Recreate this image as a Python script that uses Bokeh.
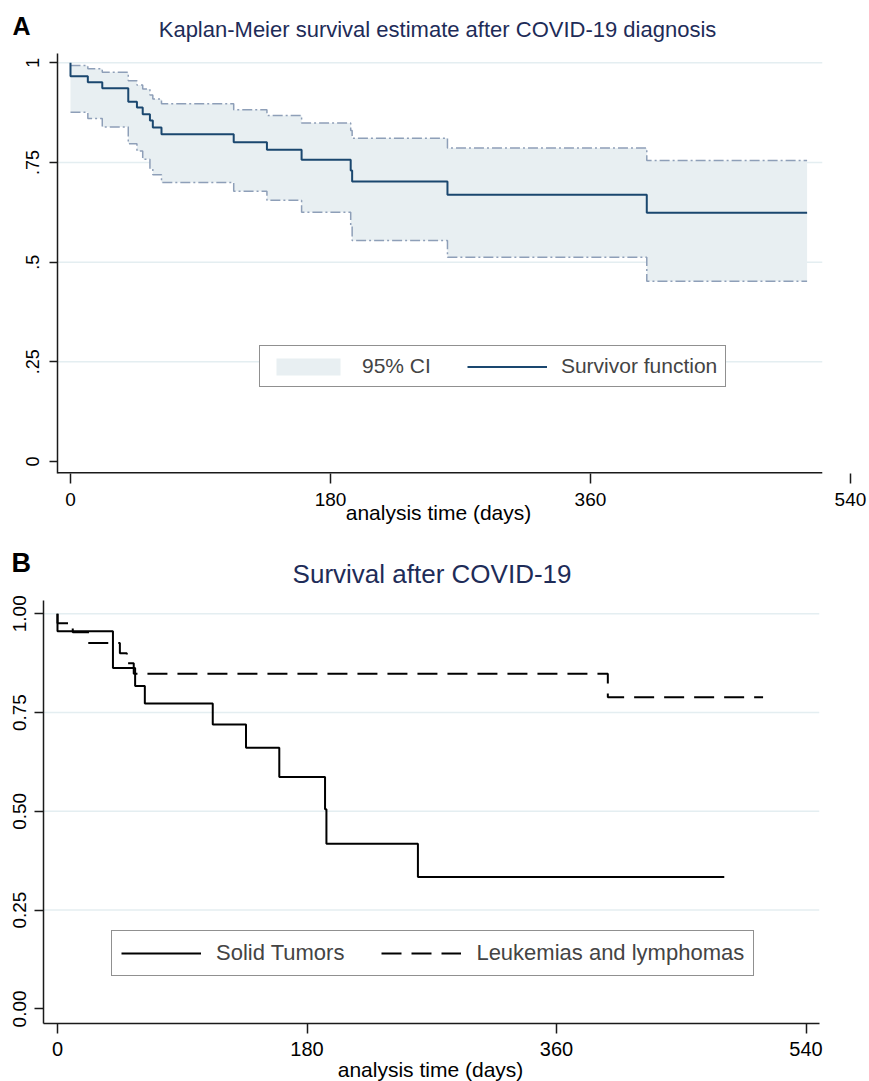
import math
from bokeh.plotting import figure
from bokeh.models import FixedTicker, Range1d, Legend, LegendItem, Label
from bokeh.layouts import column
from bokeh.embed import file_html
from bokeh.resources import INLINE

FONT = "Liberation Sans"

# ---------------- Panel A data (Kaplan-Meier, overall) ----------------
time_A = [0, 0, 12, 22, 40, 46, 50, 55, 57, 63, 113, 136, 160, 194, 195, 261, 399, 510]
surv_A = [1.0, 0.966, 0.951, 0.936, 0.902, 0.888, 0.871, 0.855, 0.838, 0.821,
          0.801, 0.782, 0.757, 0.730, 0.702, 0.669, 0.624, 0.624]
upper_A = [0.993, 0.993, 0.985, 0.976, 0.955, 0.944, 0.934, 0.919, 0.909, 0.897,
           0.882, 0.868, 0.849, 0.830, 0.811, 0.786, 0.755, 0.755]
lower_A = [0.876, 0.876, 0.860, 0.839, 0.797, 0.779, 0.758, 0.734, 0.719, 0.700,
           0.678, 0.655, 0.625, 0.590, 0.554, 0.512, 0.452, 0.452]

# ---------------- Panel B data (by tumour type) ----------------
time_S = [0, 0, 40, 56, 63, 112, 136, 160, 193, 194, 260, 481]
surv_S = [1.0, 0.956, 0.863, 0.817, 0.773, 0.720, 0.661, 0.587, 0.505, 0.418, 0.334, 0.334]
time_L = [0, 0, 11, 22, 45, 50, 55, 397, 509]
surv_L = [1.0, 0.976, 0.953, 0.926, 0.900, 0.875, 0.848, 0.789, 0.789]

x_ticks = [0, 180, 360, 540]
y_ticks = [0, 0.25, 0.5, 0.75, 1.0]
grid_vals = [0.25, 0.5, 0.75, 1.0]
y_labels_A = {0: "0", 0.25: ".25", 0.5: ".5", 0.75: ".75", 1.0: "1"}
y_labels_B = {0: "0.00", 0.25: "0.25", 0.5: "0.50", 0.75: "0.75", 1.0: "1.00"}

NAVY = "#1a476f"
CI_FILL = "#e8eff2"
CI_LINE = "#8e9fb8"
GRID = "#e4eef1"
TITLE = "#1e2c58"
AXIS = "#1a1a1a"

W = 869


def style_axes(p, ytick_font, xtick_font, ytick_len, xtick_len, ystand, xstand):
    p.xgrid.visible = False
    p.ygrid.visible = False
    p.outline_line_color = None
    for ax in (p.xaxis, p.yaxis):
        ax.axis_line_color = AXIS
        ax.axis_line_width = 1.5
        ax.major_tick_line_color = AXIS
        ax.major_tick_line_width = 1.5
        ax.minor_tick_line_color = None
        ax.major_tick_in = 0
        ax.major_label_text_font = FONT
        ax.major_label_text_color = "#000000"
    p.xaxis.ticker = FixedTicker(ticks=x_ticks)
    p.yaxis.ticker = FixedTicker(ticks=y_ticks)
    p.yaxis.major_label_orientation = "vertical"
    p.yaxis.major_tick_out = ytick_len
    p.xaxis.major_tick_out = xtick_len
    p.yaxis.major_label_text_font_size = ytick_font
    p.xaxis.major_label_text_font_size = xtick_font
    p.yaxis.major_label_standoff = ystand
    p.xaxis.major_label_standoff = xstand


def txt(x, y, text, size, color="#000000", bold=False, align="center"):
    return Label(x=x, y=y, text=text, text_font=FONT, text_font_size=size,
                 text_color=color, text_font_style="bold" if bold else "normal",
                 text_align=align, text_baseline="alphabetic")


# ======================= Panel A =======================
xA0, xA1 = -9.0, 553.2
yA0, yA1 = -0.0301, 1.0233
axis_end_A = 520.5

pA = figure(width=W, height=540, x_range=Range1d(xA0, xA1), y_range=Range1d(yA0, yA1),
            output_backend="svg", toolbar_location=None,
            min_border_left=57, min_border_right=0, min_border_top=49, min_border_bottom=67)
pA.frame_align = False
style_axes(pA, "18px", "19px", 8, 10, 10, 9)
pA.yaxis.major_label_overrides = y_labels_A
pA.xaxis.axis_line_color = None

pA.segment(x0=[xA0] * len(grid_vals), x1=[axis_end_A] * len(grid_vals),
           y0=grid_vals, y1=grid_vals, line_color=GRID, line_width=1.5)

ci = pA.varea_step(x=time_A, y1=lower_A, y2=upper_A, step_mode="after",
                   fill_color=CI_FILL, fill_alpha=1.0)
pA.step(time_A, upper_A, mode="after", line_color=CI_LINE, line_width=1.5, line_dash="10 3 2 3")
pA.step(time_A, lower_A, mode="after", line_color=CI_LINE, line_width=1.5, line_dash="10 3 2 3")
sv = pA.step(time_A, surv_A, mode="after", line_color=NAVY, line_width=2)

# x-axis line stops short of the last tick, as in the original
pA.segment(x0=[xA0], x1=[axis_end_A], y0=[yA0], y1=[yA0], line_color=AXIS, line_width=3)

legA = Legend(items=[LegendItem(label="95% CI", renderers=[ci]),
                     LegendItem(label="Survivor function", renderers=[sv])],
              location=(202, 86), orientation="horizontal")
legA.padding = 8
legA.spacing = 36
legA.margin = 0
legA.glyph_width = 80
legA.glyph_height = 21
legA.label_standoff = 14
legA.label_text_font = FONT
legA.label_text_font_size = "21px"
legA.border_line_color = "#222222"
legA.border_line_width = 1.5
legA.background_fill_alpha = 1.0
pA.add_layout(legA)

pA.add_layout(txt(-40.2, 1.0935, "A", "25px", bold=True, align="left"), "above")
pA.add_layout(txt(254.1, 1.0835, "Kaplan-Meier survival estimate after COVID-19 diagnosis",
                  "22px", color=TITLE), "above")
pA.add_layout(txt(254.8, -0.1279, "analysis time (days)", "21px"), "below")

# ======================= Panel B =======================
xB0, xB1 = -10.1, 549.7
yB0, yB1 = -0.037, 1.0336

pB = figure(width=W, height=541, x_range=Range1d(xB0, xB1), y_range=Range1d(yB0, yB1),
            output_backend="svg", toolbar_location=None,
            min_border_left=43, min_border_right=50, min_border_top=59, min_border_bottom=58)
pB.frame_align = False
style_axes(pB, "19px", "20px", 9, 10, 8, 8)
pB.yaxis.major_label_overrides = y_labels_B
pB.segment(x0=[xB0] * len(grid_vals), x1=[xB1] * len(grid_vals),
           y0=grid_vals, y1=grid_vals, line_color=GRID, line_width=1.5)

rs = pB.step(time_S, surv_S, mode="after", line_color="#000000", line_width=2)
rl = pB.step(time_L, surv_L, mode="after", line_color="#000000", line_width=2, line_dash="20 10")

legB = Legend(items=[LegendItem(label="Solid Tumors", renderers=[rs]),
                     LegendItem(label="Leukemias and lymphomas", renderers=[rl])],
              location=(68, 47), orientation="horizontal")
legB.padding = 9
legB.spacing = 37
legB.margin = 0
legB.glyph_width = 80
legB.glyph_height = 22
legB.label_standoff = 15
legB.label_text_font = FONT
legB.label_text_font_size = "22px"
legB.border_line_color = "#222222"
legB.border_line_width = 1.5
legB.background_fill_alpha = 1.0
pB.add_layout(legB)

pB.add_layout(txt(-33.2, 1.1295, "B", "27px", bold=True, align="left"), "above")
pB.add_layout(txt(270.2, 1.1018, "Survival after COVID-19", "26px", color=TITLE), "above")
pB.add_layout(txt(269.1, -0.1533, "analysis time (days)", "21px"), "below")

layout = column(pA, pB, spacing=0)
open("out.html", "w").write(file_html(layout, INLINE))
